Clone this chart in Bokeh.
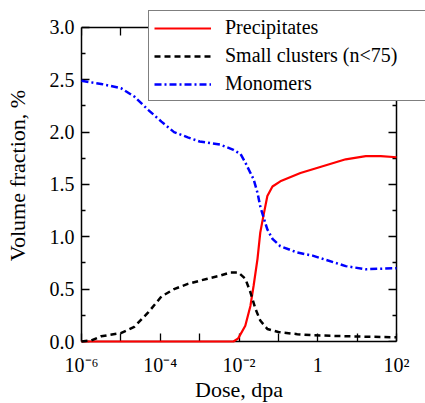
from bokeh.plotting import figure
from bokeh.models import (LogAxis, LinearAxis, FixedTicker, Legend, LegendItem, Range1d, Label)
from bokeh.embed import file_html
from bokeh.resources import INLINE

# ---- data (log10 of dose in dpa, volume fraction in %) ----
mono_logdose = [-6.0, -5.5, -5.0, -4.66, -4.3, -3.97, -3.65, -3.3, -3.0, -2.47, -2.14, -1.96,
                -1.84, -1.71, -1.63, -1.53, -1.46, -1.38, -1.28, -1.15, -0.95, -0.52, -0.13,
                0.71, 1.22, 2.0]
mono_frac = [2.49, 2.46, 2.42, 2.34, 2.21, 2.10, 2.00, 1.95, 1.91, 1.88, 1.83, 1.79,
             1.71, 1.61, 1.55, 1.42, 1.29, 1.19, 1.07, 0.98, 0.91, 0.85, 0.82,
             0.72, 0.69, 0.70]

clus_logdose = [-6.0, -5.75, -5.5, -5.0, -4.66, -4.3, -3.97, -3.65, -3.3, -2.8, -2.47, -2.22,
                -2.02, -1.84, -1.71, -1.58, -1.46, -1.28, -1.0, -0.52, -0.13, 0.71, 2.0]
clus_frac = [0.0, 0.01, 0.05, 0.08, 0.14, 0.28, 0.43, 0.50, 0.55, 0.60, 0.63, 0.66,
             0.66, 0.60, 0.47, 0.31, 0.20, 0.12, 0.09, 0.07, 0.06, 0.05, 0.04]

prec_logdose = [-6.0, -2.3, -2.14, -2.02, -1.84, -1.71, -1.63, -1.53, -1.46, -1.38, -1.28,
                -1.15, -0.95, -0.44, 0.0, 0.71, 1.22, 1.6, 2.0]
prec_frac = [0.0, 0.0, 0.0, 0.03, 0.15, 0.34, 0.53, 0.79, 1.04, 1.20, 1.39,
             1.48, 1.53, 1.61, 1.66, 1.74, 1.77, 1.77, 1.76]

x_tick_exps = [-6, -5, -4, -3, -2, -1, 0, 1, 2]
x_tick_labels = ["10⁻⁶", "", "10⁻⁴", "", "10⁻²", "", "1", "", "10²"]
y_ticks = [0.0, 0.5, 1.0, 1.5, 2.0, 2.5, 3.0]
y_minor = [0.25, 0.75, 1.25, 1.75, 2.25, 2.75]
x_title = "Dose, dpa"
y_title = "Volume fraction, %"

mono_dose = [10 ** e for e in mono_logdose]
clus_dose = [10 ** e for e in clus_logdose]
prec_dose = [10 ** e for e in prec_logdose]
x_ticks = [10.0 ** e for e in x_tick_exps]

X_MIN, X_MAX = 1e-6, 1e2
Y_MIN, Y_MAX = 0.0, 3.0

FONT = "Liberation Serif"

p = figure(width=425, height=403, x_axis_type="log", output_backend="svg",
           toolbar_location=None,
           x_range=Range1d(X_MIN, 10 ** 2.7365), y_range=Range1d(Y_MIN, 3.1709),
           min_border_left=81, min_border_right=0, min_border_top=9, min_border_bottom=60)
p.grid.visible = False
p.outline_line_color = None
p.background_fill_color = "white"
p.border_fill_color = "white"

r_prec = p.line(prec_dose, prec_frac, line_color="#ff0000", line_width=2.2, level="overlay")
r_clus = p.line(clus_dose, clus_frac, line_color="black", line_width=2.5, line_dash="6 4",
                level="overlay")
r_mono = p.line(mono_dose, mono_frac, line_color="#0000ff", line_width=2.5,
                line_dash="7 3 2 3", level="overlay")


def style_axis(ax):
    ax.axis_line_width = 1.5
    ax.axis_line_color = "black"
    ax.major_tick_in = 8
    ax.major_tick_out = 0
    ax.minor_tick_in = 4
    ax.minor_tick_out = 0
    ax.major_tick_line_width = 1.3
    ax.minor_tick_line_width = 1.3
    ax.major_label_text_font = FONT
    ax.major_label_text_font_size = "20px"
    ax.major_label_text_color = "black"
    ax.axis_label_text_font = FONT
    ax.axis_label_text_font_size = "22px"
    ax.axis_label_text_font_style = "normal"
    ax.axis_label_text_color = "black"


xb = p.xaxis[0]
xb.ticker = FixedTicker(ticks=x_ticks, minor_ticks=[])
xb.bounds = (X_MIN, X_MAX)
xb.major_label_overrides = {x_ticks[i]: x_tick_labels[i] for i in range(len(x_ticks))}
style_axis(xb)
xb.major_label_standoff = 12

yl = p.yaxis[0]
yl.ticker = FixedTicker(ticks=y_ticks, minor_ticks=y_minor)
yl.bounds = (Y_MIN, Y_MAX)
yl.axis_label = y_title
style_axis(yl)
yl.major_label_overrides = {t: "%.1f" % t for t in y_ticks}
yl.major_label_standoff = 7
yl.axis_label_standoff = 17

xt = LogAxis(ticker=FixedTicker(ticks=x_ticks, minor_ticks=[]), fixed_location=Y_MAX,
             bounds=(X_MIN, X_MAX))
style_axis(xt)
xt.major_label_overrides = {t: "" for t in x_ticks}
xt.major_label_text_font_size = "1px"
xt.major_label_standoff = 0
p.add_layout(xt, "above")

yr = LinearAxis(ticker=FixedTicker(ticks=y_ticks, minor_ticks=y_minor), fixed_location=X_MAX,
                bounds=(Y_MIN, Y_MAX))
style_axis(yr)
yr.major_label_overrides = {t: "" for t in y_ticks}
yr.major_label_text_font_size = "1px"
yr.major_label_standoff = 0
p.add_layout(yr, "right")

# x-axis title, placed in the bottom panel (centred on the log axis)
xlab = Label(x=(X_MIN * X_MAX) ** 0.5, y=-0.46, x_units="data", y_units="data", text=x_title,
             text_font=FONT, text_font_size="22px", text_color="black",
             text_align="center", text_baseline="alphabetic")
p.add_layout(xlab, "below")

legend = Legend(items=[LegendItem(label="Precipitates", renderers=[r_prec]),
                       LegendItem(label="Small clusters (n<75)", renderers=[r_clus]),
                       LegendItem(label="Monomers", renderers=[r_mono])],
                location=(67, 240))
legend.label_text_font = FONT
legend.label_text_font_size = "20px"
legend.label_text_color = "black"
legend.padding = 5
legend.margin = 0
legend.spacing = 5
legend.label_height = 12
legend.glyph_height = 12
legend.glyph_width = 57
legend.label_standoff = 14
legend.label_width = 200
legend.border_line_color = "black"
legend.border_line_width = 1.5
legend.background_fill_alpha = 1.0
legend.background_fill_color = "white"
p.add_layout(legend, "center")

open("out.html", "w").write(file_html(p, INLINE))
